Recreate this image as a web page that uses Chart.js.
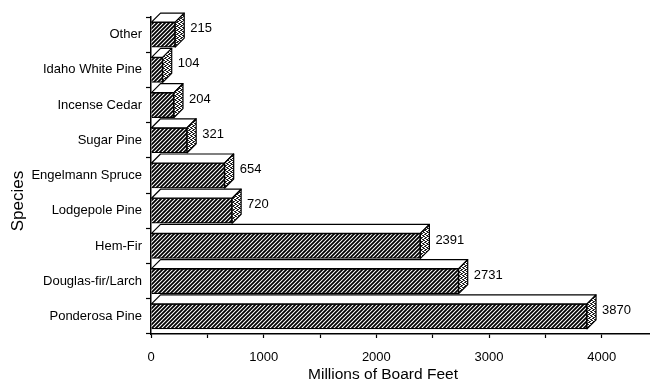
<!DOCTYPE html>
<html>
<head>
<meta charset="utf-8">
<script src="https://cdn.jsdelivr.net/npm/chart.js@4"></script>
<style>
  html, body { margin: 0; background: #fff; }
  #wrap { width: 650px; height: 382px; }
</style>
</head>
<body>
<div id="wrap"><canvas id="chart1"></canvas></div>
<script>
// Data
const species = ['Other', 'Idaho White Pine', 'Incense Cedar', 'Sugar Pine', 'Engelmann Spruce',
                 'Lodgepole Pine', 'Hem-Fir', 'Douglas-fir/Larch', 'Ponderosa Pine'];
const volume = [215, 104, 204, 321, 654, 720, 2391, 2731, 3870];
const xTickLabels = [0, 1000, 2000, 3000, 4000];
const xTitle = 'Millions of Board Feet';
const yTitle = 'Species';

const FONT = '"Liberation Sans", Arial, sans-serif';
const ctx = document.getElementById('chart1').getContext('2d');

// hatch fill for the front face
function hatchPattern() {
    const c = document.createElement('canvas');
    c.width = 4; c.height = 4;
    const g = c.getContext('2d');
    g.fillStyle = '#fff';
    g.fillRect(0, 0, 4, 4);
    g.strokeStyle = '#000';
    g.lineWidth = 1.8;
    g.beginPath();
    g.moveTo(-1, 5); g.lineTo(5, -1);
    g.moveTo(-1, 1); g.lineTo(1, -1);
    g.moveTo(3, 5); g.lineTo(5, 3);
    g.stroke();
    return ctx.createPattern(c, 'repeat');
}

// stippled fill for the side face
function stipplePattern() {
    const c = document.createElement('canvas');
    c.width = 4; c.height = 4;
    const g = c.getContext('2d');
    g.fillStyle = '#fff';
    g.fillRect(0, 0, 4, 4);
    g.fillStyle = '#222';
    g.fillRect(0, 0, 1, 1); g.fillRect(2, 1, 1, 1);
    g.fillRect(1, 2, 1, 1); g.fillRect(3, 3, 1, 1);
    g.fillRect(2, 3, 1, 1); g.fillRect(0, 2, 1, 1);
    g.fillRect(3, 0, 1, 1); g.fillRect(1, 1, 1, 1);
    return ctx.createPattern(c, 'repeat');
}

const hatch = hatchPattern();
const stipple = stipplePattern();

// draws the top and side of each box, plus the value label
const box3d = {
    id: 'box3d',
    afterDatasetsDraw(chart) {
        const c = chart.ctx, d = 9;
        chart.getDatasetMeta(0).data.forEach((bar, i) => {
            const { x, y, base, height } = bar.getProps(['x', 'y', 'base', 'height'], true);
            const top = y - height / 2, bot = y + height / 2;
            c.save();
            c.lineWidth = 1.2;
            c.strokeStyle = '#000';
            c.lineJoin = 'round';
            // top face
            c.beginPath();
            c.moveTo(base, top);
            c.lineTo(base + d, top - d);
            c.lineTo(x + d, top - d);
            c.lineTo(x, top);
            c.closePath();
            c.fillStyle = '#fff';
            c.fill();
            c.stroke();
            // side face
            c.beginPath();
            c.moveTo(x, top);
            c.lineTo(x + d, top - d);
            c.lineTo(x + d, bot - d);
            c.lineTo(x, bot);
            c.closePath();
            c.fillStyle = stipple;
            c.fill();
            c.stroke();
            // value
            c.fillStyle = '#000';
            c.font = '13px ' + FONT;
            c.textBaseline = 'middle';
            c.fillText(String(volume[i]), x + d + 6, y - 6);
            c.restore();
        });
    }
};

// axis titles, placed where the original has them (not centred on the plot)
const axisTitles = {
    id: 'axisTitles',
    afterDraw(chart) {
        const c = chart.ctx;
        c.save();
        c.fillStyle = '#000';
        c.textAlign = 'center';
        c.textBaseline = 'middle';
        c.font = '15.5px ' + FONT;
        c.fillText(xTitle, 383, 375);
        c.translate(18, 201);
        c.rotate(-Math.PI / 2);
        c.font = '17px ' + FONT;
        c.fillText(yTitle, 0, 0);
        c.restore();
    }
};

const chart1 = new Chart(ctx, {
    type: 'bar',
    data: {
        labels: species,
        datasets: [{
            data: volume,
            backgroundColor: hatch,
            borderColor: '#000',
            borderWidth: 1.2,
            barThickness: 25,
            clip: false
        }]
    },
    options: {
        indexAxis: 'y',
        responsive: true,
        maintainAspectRatio: false,
        animation: false,
        layout: { padding: { top: 17, right: 1, left: 0, bottom: 0 } },
        scales: {
            x: {
                min: 0,
                max: 4420,
                afterFit(scale) {
                    scale.height = 48;
                    scale.paddingLeft = 0;
                    scale.paddingRight = 0;
                },
                afterBuildTicks(scale) {
                    // major ticks at the labels, minor ticks halfway between
                    const t = [];
                    xTickLabels.forEach((v, i) => {
                        t.push({ value: v });
                        if (i < xTickLabels.length - 1) t.push({ value: (v + xTickLabels[i + 1]) / 2 });
                    });
                    scale.ticks = t;
                },
                ticks: {
                    maxRotation: 0,
                    autoSkip: false,
                    color: '#000',
                    font: { family: FONT, size: 13 },
                    padding: 12,
                    callback: v => xTickLabels.includes(Math.round(v)) ? String(Math.round(v)) : ''
                },
                grid: { drawOnChartArea: false, tickLength: 4, tickColor: '#000', tickWidth: 1.2 },
                border: { color: '#000', width: 1.5 }
            },
            y: {
                afterFit(scale) { scale.width = 151; },
                ticks: {
                    color: '#000',
                    font: { family: FONT, size: 13 },
                    padding: 4
                },
                grid: { drawOnChartArea: false, offset: true, tickLength: 5, tickColor: '#000', tickWidth: 1.2 },
                border: { color: '#000', width: 1.5 }
            }
        },
        plugins: {
            legend: { display: false },
            tooltip: { enabled: false }
        }
    },
    plugins: [box3d, axisTitles]
});
</script>
</body>
</html>
